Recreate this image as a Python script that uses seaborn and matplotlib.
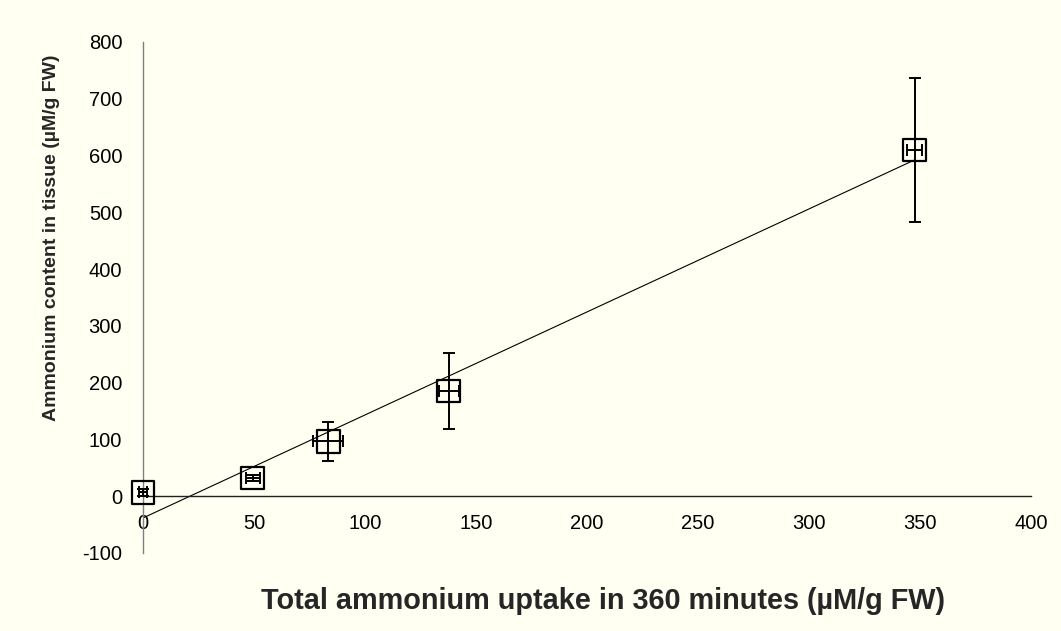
import matplotlib
matplotlib.use("Agg")
import matplotlib.pyplot as plt
import seaborn as sns
import pandas as pd

# Total ammonium uptake over 360 min vs. ammonium retained in tissue
uptake = [0.0, 49.5, 83.5, 137.7, 347.7]          # µM/g FW
uptake_err = [2.0, 3.0, 6.8, 4.5, 3.4]
content = [7.0, 32.0, 96.4, 185.4, 609.7]         # µM/g FW
content_err = [6.0, 6.0, 35.0, 67.5, 127.0]

x_ticks = [0, 50, 100, 150, 200, 250, 300, 350, 400]
y_ticks = [-100, 0, 100, 200, 300, 400, 500, 600, 700, 800]

x_label = "Total ammonium uptake in 360 minutes (µM/g FW)"
y_label = "Ammonium content in tissue (µM/g FW)"

df = pd.DataFrame({"uptake": uptake, "content": content})

sns.set_style("white")
plt.rcParams["font.family"] = ["Liberation Sans", "DejaVu Sans"]
plt.rcParams["axes.unicode_minus"] = False

bg = "#FFFFF2"
fig = plt.figure(figsize=(10.61, 6.31), dpi=100, facecolor=bg)
ax = fig.add_axes([143 / 1061, 1 - 553 / 631, 888 / 1061, 511 / 631])
ax.set_facecolor(bg)

# linear trend line over the measured range
sns.regplot(data=df, x="uptake", y="content", ax=ax, scatter=False, ci=None,
            truncate=True, line_kws=dict(color="black", lw=0.8, zorder=2))

eb = ax.errorbar(uptake, content, xerr=uptake_err, yerr=content_err, fmt="none",
                 ecolor="black", elinewidth=1.4, capsize=4.5, capthick=1.4, zorder=3)
for artist in eb.get_children():
    artist.set_clip_on(False)

sns.scatterplot(data=df, x="uptake", y="content", ax=ax, marker="s", s=270,
                facecolor="none", edgecolor="black", linewidth=1.6, zorder=4,
                clip_on=False)

ax.set_xlim(0, 400)
ax.set_ylim(-100, 800)
ax.set_xticks(x_ticks)
ax.set_yticks(y_ticks)

for side in ("top", "right"):
    ax.spines[side].set_visible(False)
ax.spines["bottom"].set_position(("data", 0))
ax.spines["bottom"].set_color("#202020")
ax.spines["bottom"].set_linewidth(1.0)
ax.spines["left"].set_color("#808080")
ax.spines["left"].set_linewidth(1.0)

ax.tick_params(axis="x", direction="out", length=5, width=1, color="#808080",
               pad=8, labelsize=14.5, labelcolor="black")
ax.tick_params(axis="y", direction="out", length=5, width=1, color="#808080",
               pad=10, labelsize=14.5, labelcolor="black")

ax.set_xlabel(x_label, fontsize=20.8, fontweight="bold")
ax.set_ylabel(y_label, fontsize=14, fontweight="bold")
ax.xaxis.set_label_coords(0.518, -0.066)
ax.yaxis.set_label_coords(-0.093, 0.617)

fig.savefig("out.png", dpi=100, facecolor=bg)
